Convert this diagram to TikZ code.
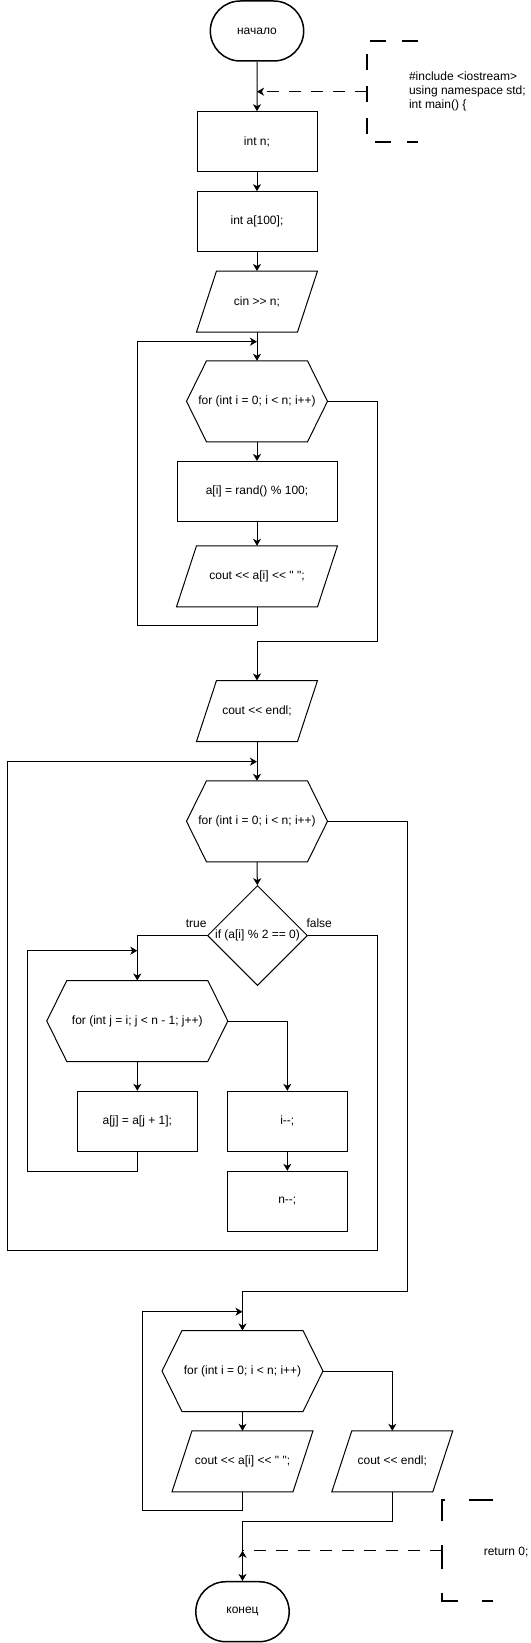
\documentclass[tikz,border=0pt]{standalone}
\usepackage{fontspec}
\defaultfontfeatures{Ligatures=TeXOff}
\setmainfont{Liberation Sans}[Ligatures=TeXOff]
\usepackage{tikz}
\usetikzlibrary{shapes.geometric, shapes.misc, arrows.meta}

\begin{document}
\begin{tikzpicture}[x=1pt, y=-1pt, line width=1pt,
  font=\fontsize{12}{14}\selectfont,
  >={Stealth[length=7pt, width=8pt, inset=2pt]},
  term/.style={draw, rounded rectangle, minimum width=100pt, minimum height=60pt, line width=1.5pt},
  proc/.style={draw, rectangle, minimum height=60pt},
  io/.style={rectangle, minimum height=60pt, inner sep=0pt,
    append after command={\pgfextra{\draw ([xshift=20pt]\tikzlastnode.north west) -- (\tikzlastnode.north east) -- ([xshift=-20pt]\tikzlastnode.south east) -- (\tikzlastnode.south west) -- cycle;}}},
  loophead/.style={rectangle, minimum height=80pt, inner sep=0pt,
    append after command={\pgfextra{\draw (\tikzlastnode.west) -- ([xshift=20pt]\tikzlastnode.north west) -- ([xshift=-20pt]\tikzlastnode.north east) -- (\tikzlastnode.east) -- ([xshift=-20pt]\tikzlastnode.south east) -- ([xshift=20pt]\tikzlastnode.south west) -- cycle;}}},
  cond/.style={draw, diamond, minimum width=100pt, minimum height=100pt, inner sep=0pt},
  lbl/.style={inner sep=0pt},
  notebrace/.style={line width=2pt},
  conn/.style={dashed, dash pattern=on 12pt off 10pt}]
\useasboundingbox (0,0) rectangle (530,1643);

% Declarations and input
\node[term] (start) at (257,31) {начало};
\node[proc, minimum width=120pt] (decln) at (257,141.7) {int n;};
\node[proc, minimum width=120pt] (decla) at (257,221.7) {int a[100];};
\node[io, minimum width=120pt] (readn) at (257,301.5) {cin >> n;};

% Header note
\node[minimum width=50pt, minimum height=100pt, inner sep=0pt] (note1) at (392.5,91.7) {};
\draw[notebrace, dash pattern=on 16pt off 16pt] (note1.north east) -- (note1.north west) -- (note1.south west) -- (note1.south east);
\node[anchor=west, align=left, inner sep=0pt] (note1txt) at (408.5,91.7) {\#include <iostream>\\using namespace std;\\int main() \{};
\coordinate (jn1) at (start |- note1.west);
\draw[->, conn] (note1.west) -- (jn1);

% First loop: fill the array
\node[loophead, minimum width=140pt] (fill) at (257,401.3) {for (int i = 0; i < n; i++)};
\node[proc, minimum width=160pt] (rnd) at (257,491.5) {a[i] = rand() \% 100;};
\node[io, minimum width=160pt] (print1) at (257,576.3) {cout << a[i] << " ";};
\node[io, minimum width=120pt] (endl1) at (257,711) {cout << endl;};

% Second loop: remove even numbers
\node[loophead, minimum width=140pt] (scan) at (257,821.3) {for (int i = 0; i < n; i++)};
\node[cond] (even) at (257.5,935.5) {if (a[i] \% 2 == 0)};
\node[loophead, minimum width=180pt] (shiftloop) at (137.3,1021) {for (int j = i; j < n - 1; j++)};
\node[proc, minimum width=120pt] (shift) at (137.3,1121.3) {a[j] = a[j + 1];};
\node[proc, minimum width=120pt] (deci) at (287.3,1121.3) {i--;};
\node[proc, minimum width=120pt] (decn) at (287.3,1201.3) {n--;};

% Third loop: print the result
\node[loophead, minimum width=160pt] (show) at (242.5,1371) {for (int i = 0; i < n; i++)};
\node[io, minimum width=140pt] (print2) at (242.5,1461.3) {cout << a[i] << " ";};
\node[io, minimum width=120pt] (endl2) at (392.3,1461.3) {cout << endl;};
\node[term] (stop) at (242.5,1611.7) {конец};

% Footer note
\node[minimum width=50pt, minimum height=100pt, inner sep=0pt] (note2) at (467.3,1550.7) {};
\draw[notebrace, dash pattern=on 24pt off 24pt] (note2.north east) -- (note2.north west) -- (note2.south west) -- (note2.south east);
\node[anchor=west, inner sep=0pt] (note2txt) at (483.3,1552.3) {return 0;};

% Junctions and bends
\coordinate (j1) at (257,341.7);
\coordinate (l1) at (137.3,625.7);
\coordinate (r1) at (377.3,641.7);
\coordinate (j2) at (257,761.7);
\coordinate (f1) at (377.3,1250.7);
\coordinate (l2) at (7.3,1250.7);
\coordinate (j3) at (137.3,950.7);
\coordinate (l3) at (27.3,1171.3);
\coordinate (r2) at (407.3,1291.7);
\coordinate (j4) at (242.5,1311.7);
\coordinate (l4) at (142.3,1510.7);
\coordinate (r3) at (392.3,1521.7);
\coordinate (jn2) at (stop |- note2.west);

% Arrows
\draw[->] (start) -- (decln);
\draw[->] (decln) -- (decla);
\draw[->] (decla) -- (readn);
\draw[->] (readn) -- (fill);
\draw[->] (fill) -- (rnd);
\draw[->] (rnd) -- (print1);
\draw[->] (print1.south) |- (l1) |- (j1);
\draw[->] (fill.east) -| (r1) -| (endl1.north);
\draw[->] (endl1) -- (scan);
\draw[->] (scan) -- (even);
\draw[->] (even.west) -| node[pos=0, lbl, anchor=south east, yshift=7pt] {true} (shiftloop.north);
\draw[->] (even.east) -| node[pos=0, lbl, anchor=south west, xshift=-2pt, yshift=7pt] {false} (f1) -- (l2) |- (j2);
\draw[->] (shiftloop) -- (shift);
\draw[->] (shift.south) |- (l3) |- (j3);
\draw[->] (shiftloop.east) -| (deci.north);
\draw[->] (deci) -- (decn);
\draw[->] (scan.east) -| (r2) -| (show.north);
\draw[->] (show) -- (print2);
\draw[->] (print2.south) |- (l4) |- (j4);
\draw[->] (show.east) -| (endl2.north);
\draw[->] (endl2.south) -- (r3) -| (stop.north);
\draw[conn] (note2.west) -- (jn2);
\draw[->] ([yshift=-9pt]jn2) -- (jn2);

\end{tikzpicture}
\end{document}
